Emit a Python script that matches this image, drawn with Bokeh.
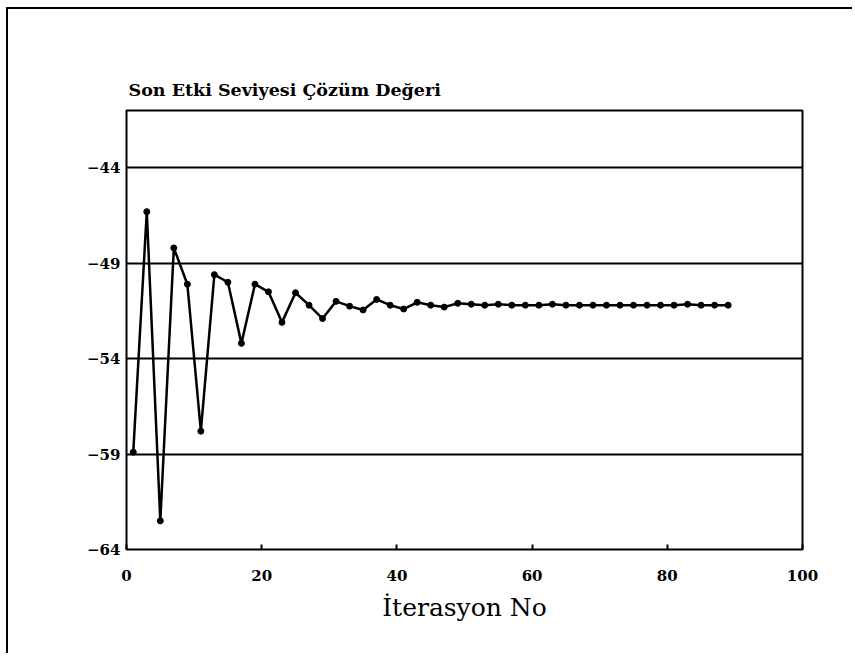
from bokeh.plotting import figure
from bokeh.models import FixedTicker, Range1d
from bokeh.embed import file_html
from bokeh.resources import INLINE

# ---- data ----
iterations = [1, 3, 5, 7, 9, 11, 13, 15, 17, 19, 21, 23, 25, 27, 29, 31, 33, 35, 37,
              39, 41, 43, 45, 47, 49, 51, 53, 55, 57, 59, 61, 63, 65, 67, 69, 71,
              73, 75, 77, 79, 81, 83, 85, 87, 89]
values = [-58.9, -46.3, -62.5, -48.2, -50.1, -57.8, -49.6, -50.0, -53.2, -50.1,
          -50.5, -52.1, -50.55, -51.2, -51.9, -51.0, -51.25, -51.45, -50.9, -51.2,
          -51.4, -51.05, -51.2, -51.3, -51.1, -51.15, -51.2, -51.15, -51.2, -51.2,
          -51.2, -51.15, -51.2, -51.2, -51.2, -51.2, -51.2, -51.2, -51.2, -51.2,
          -51.2, -51.15, -51.2, -51.2, -51.2]
x_ticks = [0, 20, 40, 60, 80, 100]
y_ticks = [-64, -59, -54, -49, -44]
title_text = "Son Etki Seviyesi Çözüm Değeri"
x_label = "İterasyon No"

p = figure(
    frame_width=676, frame_height=439,
    min_border_left=118, min_border_right=50,
    min_border_top=101, min_border_bottom=104,
    x_range=Range1d(0, 100), y_range=Range1d(-64, -41),
    output_backend="svg", toolbar_location=None,
    title=title_text,
    styles={"border-left": "2px solid black", "border-top": "2px solid black",
            "margin-left": "6px", "margin-top": "7px"},
)

p.title.text_font = "DejaVu Serif"
p.title.text_font_style = "bold"
p.title.text_font_size = "17.5px"
p.title.align = "left"
p.title.offset = 2
p.title.standoff = 21
p.title.text_color = "black"

p.outline_line_color = "black"
p.outline_line_width = 2
p.outline_line_alpha = 1.0

p.xgrid.grid_line_color = None
p.ygrid.grid_line_color = "black"
p.ygrid.grid_line_width = 2
p.ygrid.grid_line_alpha = 1.0

p.xaxis.ticker = FixedTicker(ticks=x_ticks)
p.yaxis.ticker = FixedTicker(ticks=y_ticks)
for ax in (p.xaxis, p.yaxis):
    ax.axis_line_color = None
    ax.minor_tick_line_color = None
    ax.major_label_text_font = "DejaVu Serif"
    ax.major_label_text_font_style = "bold"
    ax.major_label_text_font_size = "15px"
    ax.major_label_text_color = "black"

p.xaxis.major_tick_in = 5
p.xaxis.major_tick_out = 0
p.xaxis.major_tick_line_color = "black"
p.xaxis.major_tick_line_width = 2
p.xaxis.major_label_standoff = 20
p.yaxis.major_tick_in = 0
p.yaxis.major_tick_out = 0
p.yaxis.major_label_standoff = 6

p.xaxis.axis_label = x_label
p.xaxis.axis_label_text_font = "DejaVu Serif"
p.xaxis.axis_label_text_font_style = "normal"
p.xaxis.axis_label_text_font_size = "25px"
p.xaxis.axis_label_text_color = "black"
p.xaxis.axis_label_standoff = 9

p.line(iterations, values, line_color="black", line_width=2.5)
p.scatter(iterations, values, size=6, fill_color="black", line_color="black")

open("out.html", "w").write(file_html(p, INLINE))
